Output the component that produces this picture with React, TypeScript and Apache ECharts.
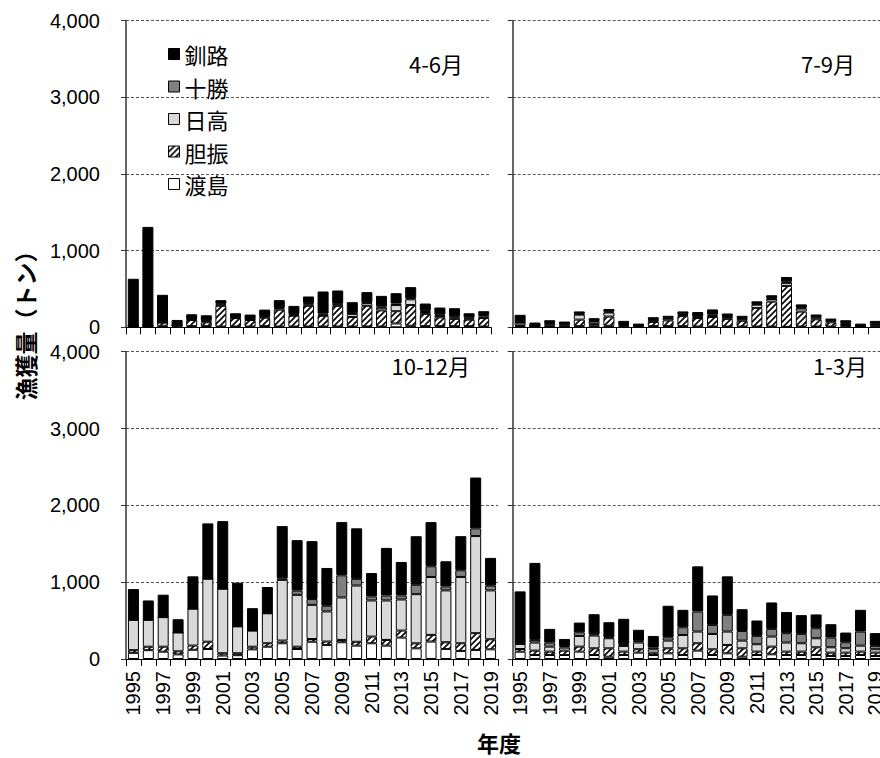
import { useEffect, useRef } from "react";
import * as echarts from "echarts";

// ---------- data ----------
const YEARS = [
  "1995", "1996", "1997", "1998", "1999", "2000", "2001", "2002", "2003", "2004",
  "2005", "2006", "2007", "2008", "2009", "2010", "2011", "2012", "2013", "2014",
  "2015", "2016", "2017", "2018", "2019",
];
// stacking order, bottom to top
const REGIONS = ["渡島", "胆振", "日高", "十勝", "釧路"];
const LEGEND_ORDER = ["釧路", "十勝", "日高", "胆振", "渡島"];
const SEASONS = ["4-6月", "7-9月", "10-12月", "1-3月"];
const Y_MIN = 0;
const Y_MAX = 4000;
const Y_STEP = 1000;
const Y_TITLE = "漁獲量（トン）";
const X_TITLE = "年度";

// 4-6月
const AMJ_OSHIMA = [15, 15, 20, 10, 15, 15, 10, 10, 10, 15, 10, 10, 10, 10, 10, 10, 10, 10, 50, 20, 15, 15, 15, 15, 10];
const AMJ_IBURI = [5, 5, 40, 15, 80, 50, 270, 110, 85, 110, 220, 140, 270, 140, 270, 125, 270, 210, 160, 270, 160, 115, 95, 85, 110];
const AMJ_HIDAKA = [0, 0, 5, 0, 15, 15, 20, 10, 10, 15, 20, 15, 20, 15, 20, 40, 35, 35, 80, 75, 25, 20, 20, 15, 20];
const AMJ_TOKACHI = [0, 0, 0, 0, 5, 10, 10, 5, 5, 5, 10, 10, 15, 15, 10, 10, 10, 15, 20, 15, 15, 15, 15, 15, 20];
const AMJ_KUSHIRO = [613, 1290, 359, 71, 55, 67, 44, 48, 56, 86, 94, 104, 87, 287, 170, 143, 134, 140, 135, 144, 95, 93, 104, 53, 50];

// 7-9月
const JAS_OSHIMA = [15, 10, 10, 10, 15, 20, 20, 15, 10, 15, 15, 15, 10, 10, 10, 10, 10, 10, 5, 10, 10, 10, 10, 5, 10];
const JAS_IBURI = [10, 5, 10, 10, 85, 25, 120, 15, 10, 55, 75, 130, 110, 125, 100, 75, 240, 325, 535, 195, 95, 55, 20, 5, 15];
const JAS_HIDAKA = [35, 10, 25, 20, 65, 30, 53, 20, 5, 26, 25, 15, 10, 15, 25, 25, 45, 35, 40, 40, 26, 20, 25, 5, 15];
const JAS_TOKACHI = [5, 0, 10, 5, 10, 8, 10, 5, 3, 8, 8, 10, 10, 15, 10, 10, 10, 10, 15, 10, 8, 8, 10, 3, 10];
const JAS_KUSHIRO = [98, 37, 37, 30, 32, 36, 35, 29, 20, 28, 27, 37, 59, 68, 35, 30, 34, 38, 61, 44, 28, 21, 27, 30, 34];

// 10-12月
const OND_OSHIMA = [80, 115, 95, 60, 120, 130, 45, 50, 125, 160, 205, 130, 225, 183, 218, 174, 205, 174, 279, 139, 227, 131, 105, 118, 126];
const OND_IBURI = [35, 45, 65, 40, 55, 95, 30, 25, 35, 45, 35, 30, 35, 44, 30, 50, 87, 74, 91, 65, 87, 87, 100, 218, 131];
const OND_HIDAKA = [395, 350, 385, 245, 480, 820, 840, 350, 210, 390, 790, 675, 445, 392, 553, 732, 470, 514, 405, 640, 754, 675, 863, 1264, 636];
const OND_TOKACHI = [0, 0, 0, 0, 0, 0, 0, 0, 0, 0, 20, 55, 75, 74, 288, 87, 52, 65, 52, 122, 139, 52, 87, 100, 61];
const OND_KUSHIRO = [400, 252, 292, 173, 421, 720, 880, 568, 292, 342, 680, 657, 754, 492, 693, 658, 305, 619, 436, 632, 575, 327, 444, 662, 362];

// 1-3月
const JFM_OSHIMA = [95, 52, 52, 52, 96, 52, 30, 52, 83, 52, 74, 52, 109, 52, 74, 30, 52, 61, 52, 52, 52, 39, 39, 52, 39];
const JFM_IBURI = [35, 57, 44, 57, 65, 87, 109, 44, 44, 30, 65, 87, 96, 74, 109, 109, 44, 100, 44, 44, 100, 44, 44, 44, 44];
const JFM_HIDAKA = [65, 105, 65, 39, 139, 166, 131, 74, 87, 44, 100, 174, 152, 200, 174, 100, 96, 131, 118, 109, 118, 70, 57, 78, 44];
const JFM_TOKACHI = [5, 35, 52, 22, 48, 17, 13, 26, 22, 22, 44, 100, 261, 118, 218, 126, 109, 100, 122, 122, 131, 126, 78, 183, 44];
const JFM_KUSHIRO = [680, 1002, 179, 91, 126, 261, 196, 327, 144, 152, 410, 227, 588, 383, 501, 283, 200, 344, 275, 244, 179, 174, 126, 283, 166];

const SEASON_DATA = [
  [AMJ_OSHIMA, AMJ_IBURI, AMJ_HIDAKA, AMJ_TOKACHI, AMJ_KUSHIRO],
  [JAS_OSHIMA, JAS_IBURI, JAS_HIDAKA, JAS_TOKACHI, JAS_KUSHIRO],
  [OND_OSHIMA, OND_IBURI, OND_HIDAKA, OND_TOKACHI, OND_KUSHIRO],
  [JFM_OSHIMA, JFM_IBURI, JFM_HIDAKA, JFM_TOKACHI, JFM_KUSHIRO],
];

// ---------- styling ----------
const JP_FONT = "'Noto Sans CJK JP', 'Noto Sans', sans-serif";
const NUM_FONT = "'Liberation Sans', Arial, sans-serif";

const HATCH_SVG =
  "<svg xmlns='http://www.w3.org/2000/svg' width='6' height='6'>" +
  "<rect width='6' height='6' fill='white'/>" +
  "<path d='M-1,7 L7,-1 M-1,1 L1,-1 M5,7 L7,5' stroke='black' stroke-width='1.6'/>" +
  "</svg>";
const HATCH = {
  image: "data:image/svg+xml;charset=utf-8," + encodeURIComponent(HATCH_SVG),
  repeat: "repeat",
  imageWidth: 6,
  imageHeight: 6,
};
const REGION_FILL: any[] = ["#ffffff", HATCH, "#d9d9d9", "#808080", "#000000"];

const GRIDS = [
  { left: 126, top: 20.7, width: 365, height: 306.6 },
  { left: 512.7, top: 20.7, width: 370, height: 306.6 },
  { left: 126, top: 351.7, width: 372, height: 307.3 },
  { left: 512.7, top: 351.7, width: 370, height: 307.3 },
];
const TITLE_POS = [
  [463, 63],
  [855, 63],
  [470, 365],
  [867, 365],
];

export default function App() {
  const ref = useRef<HTMLDivElement>(null);

  useEffect(() => {
    if (!ref.current) return;
    const chart = echarts.init(ref.current, null, { renderer: "svg" });

    const series: any[] = [];
    SEASON_DATA.forEach((panel, p) => {
      panel.forEach((values, r) => {
        series.push({
          type: "bar",
          name: REGIONS[r],
          xAxisIndex: p,
          yAxisIndex: p,
          stack: "s" + p,
          data: values,
          barWidth: 11,
          itemStyle: { color: REGION_FILL[r], borderColor: "#000", borderWidth: 1 },
          emphasis: { disabled: true },
        });
      });
    });

    const option: any = {
      animation: false,
      backgroundColor: "#ffffff",
      grid: GRIDS.map((g) => ({ ...g, containLabel: false, outerBoundsMode: "none" })),
      xAxis: GRIDS.map((_, i) => ({
        type: "category",
        gridIndex: i,
        data: YEARS,
        boundaryGap: true,
        axisLine: { show: true, lineStyle: { color: "#000", width: 1 } },
        axisTick: { show: true, length: 7, interval: 0, lineStyle: { color: "#000", width: 1 } },
        axisLabel: {
          show: i >= 2,
          interval: 1,
          rotate: 90,
          margin: 12,
          fontSize: 20,
          fontFamily: NUM_FONT,
          color: "#000",
        },
        splitLine: { show: false },
      })),
      yAxis: GRIDS.map((_, i) => ({
        type: "value",
        gridIndex: i,
        min: Y_MIN,
        max: Y_MAX,
        interval: Y_STEP,
        axisLine: { show: true, lineStyle: { color: "#333", width: 1.5 } },
        axisTick: { show: true, length: 5, lineStyle: { color: "#333", width: 1 } },
        axisLabel: {
          show: i % 2 === 0,
          margin: 26,
          fontSize: 20,
          lineHeight: 20,
          fontFamily: NUM_FONT,
          color: "#000",
          formatter: (v: number) => v.toLocaleString("en-US"),
        },
        splitLine: { show: true, lineStyle: { color: "#555", type: [3, 2], width: 1 } },
      })),
      legend: {
        show: true,
        orient: "vertical",
        left: 168,
        top: 43,
        padding: 0,
        data: LEGEND_ORDER,
        icon: "rect",
        itemWidth: 11,
        itemHeight: 11,
        itemGap: 10.5,
        selectedMode: false,
        itemStyle: { borderColor: "#000", borderWidth: 1 },
        textStyle: { fontSize: 22, lineHeight: 22, fontFamily: JP_FONT, color: "#000" },
      },
      graphic: [
        ...SEASONS.map((s, i) => ({
          type: "text",
          x: TITLE_POS[i][0],
          y: TITLE_POS[i][1],
          style: {
            text: s,
            fill: "#000",
            fontSize: 22,
            fontFamily: JP_FONT,
            align: "right",
            verticalAlign: "middle",
          },
        })),
        {
          type: "text",
          x: 25,
          y: 320,
          rotation: Math.PI / 2,
          style: {
            text: Y_TITLE,
            fill: "#000",
            fontSize: 23,
            fontWeight: "bold",
            fontFamily: JP_FONT,
            align: "center",
            verticalAlign: "middle",
          },
        },
        {
          type: "text",
          x: 499,
          y: 742,
          style: {
            text: X_TITLE,
            fill: "#000",
            fontSize: 22,
            fontWeight: "bold",
            fontFamily: JP_FONT,
            align: "center",
            verticalAlign: "middle",
          },
        },
      ],
      series,
    };

    chart.setOption(option);
    return () => chart.dispose();
  }, []);

  return (
    <div
      ref={ref}
      style={{ position: "absolute", left: 0, top: 0, width: 880, height: 758, background: "#fff" }}
    />
  );
}
